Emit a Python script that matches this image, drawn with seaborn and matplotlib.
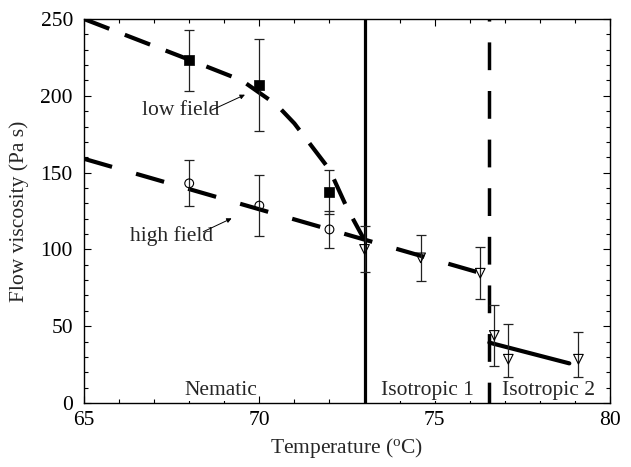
import matplotlib
matplotlib.use("Agg")
import matplotlib.pyplot as plt
import seaborn as sns

# ---------------- data ----------------
# low field measurements (filled squares)
T_low = [68, 70, 72]
V_low = [223, 207, 137.5]
E_low = [20, 30, 14.5]

# high field measurements (open circles)
T_high = [68, 70, 72]
V_high = [143, 128.5, 113]
E_high = [15, 20, 12]

# isotropic measurements (open down triangles)
T_iso = [73, 74.6, 76.3, 76.7, 77.1, 79.1]
V_iso = [100, 94.5, 84.5, 44, 28.5, 28.5]
E_iso_lo = [15, 15, 17, 20, 11.5, 11.5]
E_iso_hi = [15, 15, 17, 20, 23, 18]

# guide lines
fit_low_T = [65, 68, 69.5, 70.5, 71.0, 71.5, 72.0, 72.5, 73.0]
fit_low_V = [250, 223.5, 210, 194, 182, 167, 152, 127, 106]
fit_high_T = [65, 76.4]
fit_high_V = [159, 84]
fit_iso2_T = [76.56, 78.84]
fit_iso2_V = [39.3, 25.8]

T_transition1 = 73.0
T_transition2 = 76.56

phase_labels = ["Nematic", "Isotropic 1", "Isotropic 2"]
phase_label_T = [68.9, 74.8, 78.24]

# ---------------- style ----------------
sns.set_theme(style="ticks")
plt.rcParams["font.family"] = ["Liberation Serif", "DejaVu Serif"]
plt.rcParams["mathtext.fontset"] = "custom"
plt.rcParams["mathtext.rm"] = "Liberation Serif"
plt.rcParams["mathtext.it"] = "Liberation Serif:italic"

FS = 15.5
fig = plt.figure(figsize=(6.31, 4.67), dpi=100)
ax = fig.add_axes([84 / 631, 1 - 403 / 467, (610 - 84) / 631, (403 - 19) / 467])

# guide lines
sns.lineplot(x=fit_low_T, y=fit_low_V, ax=ax, color="black", lw=3.0,
             linestyle=(0, (6.5, 4.0)), sort=False, zorder=3)
sns.lineplot(x=fit_high_T, y=fit_high_V, ax=ax, color="black", lw=3.0,
             linestyle=(0, (7.0, 6.0)), sort=False, zorder=3)
sns.lineplot(x=fit_iso2_T, y=fit_iso2_V, ax=ax, color="black", lw=3.0,
             sort=False, zorder=3)

# phase boundaries
ax.axvline(T_transition1, color="black", lw=2.3, zorder=2)
ax.axvline(T_transition2, color="black", lw=2.5, linestyle=(2, (8.0, 6.0)), zorder=2)

# error bars
eb_kw = dict(fmt="none", ecolor="#222222", elinewidth=0.9, capsize=3.6, capthick=0.9, zorder=4)
ax.errorbar(T_low, V_low, yerr=E_low, **eb_kw)
ax.errorbar(T_high, V_high, yerr=E_high, **eb_kw)
ax.errorbar(T_iso, V_iso, yerr=[E_iso_lo, E_iso_hi], **eb_kw)

# markers
sns.scatterplot(x=T_low, y=V_low, ax=ax, marker="s", s=45, color="black",
                edgecolor="black", linewidth=0.5, zorder=5)
sns.scatterplot(x=T_high, y=V_high, ax=ax, marker="o", s=40, facecolor="none",
                edgecolor="black", linewidth=0.8, zorder=5)
sns.scatterplot(x=T_iso, y=V_iso, ax=ax, marker="v", s=48, facecolor="none",
                edgecolor="black", linewidth=0.8, zorder=5)

# annotations
ax.text(67.75, 190.7, "low field", fontsize=FS, ha="center", va="center", zorder=6)
ax.annotate("", xy=(69.59, 200.7), xytext=(68.64, 190.7),
            arrowprops=dict(arrowstyle="-|>", lw=0.7, color="black",
                            mutation_scale=7, shrinkA=0, shrinkB=0), zorder=6)
ax.text(67.5, 109, "high field", fontsize=FS, ha="center", va="center", zorder=6)
ax.annotate("", xy=(69.21, 120.2), xytext=(68.4, 111.5),
            arrowprops=dict(arrowstyle="-|>", lw=0.7, color="black",
                            mutation_scale=7, shrinkA=0, shrinkB=0), zorder=6)

for lab, tx in zip(phase_labels, phase_label_T):
    ax.text(tx, 8, lab, fontsize=FS, ha="center", va="center",
            bbox=dict(fc="white", ec="none", pad=0.5), zorder=6)

# axes
ax.set_xlim(65, 80)
ax.set_ylim(0, 250)
ax.set_xticks([65, 70, 75, 80])
ax.set_yticks([0, 50, 100, 150, 200, 250])
ax.set_xticks([x for x in range(65, 81)], minor=True)
ax.set_yticks([y for y in range(0, 251, 10)], minor=True)
ax.tick_params(which="both", direction="in", top=True, right=True,
               colors="black", labelsize=FS, width=0.8)
ax.tick_params(which="major", length=5)
ax.tick_params(which="minor", length=3)
ax.tick_params(axis="y", pad=8)
ax.tick_params(axis="x", pad=6)
for sp in ax.spines.values():
    sp.set_color("black")
    sp.set_linewidth(1.0)
ax.set_facecolor("white")
ax.grid(False)

ax.set_xlabel("Temperature ($^{\\rm o}$C)", fontsize=FS, labelpad=4)
ax.set_ylabel("Flow viscosity (Pa s)", fontsize=FS, labelpad=8)

fig.savefig("out.png", dpi=100, facecolor="white")
